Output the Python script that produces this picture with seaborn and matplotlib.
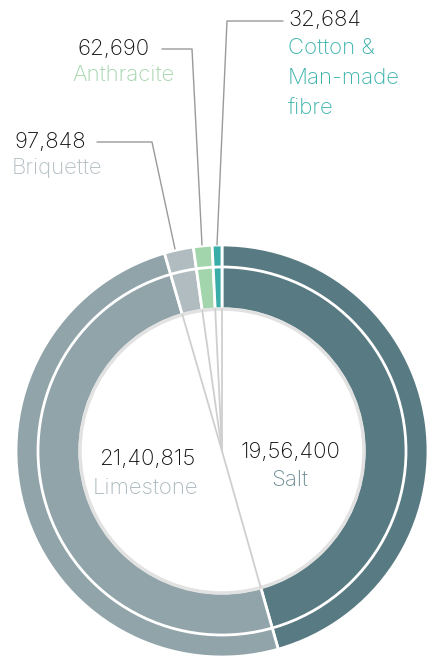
import numpy as np
import matplotlib
matplotlib.use("Agg")
import matplotlib.pyplot as plt
import seaborn as sns

# data
categories = ["Salt", "Limestone", "Briquette", "Anthracite", "Cotton &\nMan-made\nfibre"]
values = [1956400, 2140815, 97848, 62690, 32684]
value_labels = ["19,56,400", "21,40,815", "97,848", "62,690", "32,684"]
colors = ["#587a82", "#91a4aa", "#b1bcc0", "#a3d5ac", "#3aada8"]
label_colors = ["#6d8d95", "#a9b8bd", "#b3bec2", "#a3d5ac", "#3db3ac"]

sns.set_theme(style="white")
plt.rcParams["font.family"] = ["Inter", "DejaVu Sans"]

W, H = 436, 656
fig = plt.figure(figsize=(W / 100, H / 100), dpi=100)
ax = fig.add_axes([0, 0, 1, 1])
ax.set_aspect("equal")
ax.axis("off")

cx, cy = 222, H - 451
r_out, r_sep, r_in = 206, 184, 142

ax.pie(values, colors=colors, startangle=90, counterclock=False,
       center=(cx, cy), radius=r_out,
       wedgeprops=dict(width=r_out - r_in, edgecolor="white", linewidth=2))
ax.set_xlim(0, W)
ax.set_ylim(0, H)

# white separator ring and hole edge
ax.add_patch(plt.Circle((cx, cy), r_sep, fill=False, ec="white", lw=2, zorder=3))
ax.add_patch(plt.Circle((cx, cy), r_in, fill=False, ec="#e2e2e2", lw=2.5, zorder=3))

# gray spokes from centre to each slice boundary
bounds = np.cumsum([0] + values) / sum(values)
for b in bounds[:-1]:
    a = np.deg2rad(90 - 360 * b)
    ax.plot([cx, cx + r_in * np.cos(a)], [cy, cy + r_in * np.sin(a)],
            color="#cfcfcf", lw=1.3, zorder=4)

fs = 16
fw = "light"

def ytop(y):
    return H - y

# big labels inside
ax.text(290, ytop(452), value_labels[0], ha="center", va="center", fontsize=fs, color="#111111", fontweight=fw)
ax.text(290, ytop(480), categories[0], ha="center", va="center", fontsize=fs, color=label_colors[0], fontweight=fw)
ax.text(147, ytop(459), value_labels[1], ha="center", va="center", fontsize=fs, color="#111111", fontweight=fw)
ax.text(145, ytop(488), categories[1], ha="center", va="center", fontsize=fs, color=label_colors[1], fontweight=fw)

# small slices with leader lines
leaders = {
    2: dict(text=(14, 142), name=(12, 168), line=[(97, 142), (152, 142), (175, 249)]),
    3: dict(text=(77, 49), name=(72, 75), line=[(162, 49), (192, 49), (202, 245)]),
    4: dict(text=(288, 20), name=(288, 78), line=[(283, 21), (227, 21), (217, 245)]),
}
for i, d in leaders.items():
    xs = [p[0] for p in d["line"]]
    ys = [ytop(p[1]) for p in d["line"]]
    ax.plot(xs, ys, color="#9a9a9a", lw=1)
    tx, ty = d["text"]
    ax.text(tx, ytop(ty), value_labels[i], ha="left", va="center", fontsize=fs,
            color="#111111", fontweight=fw)
    nx, ny = d["name"]
    ax.text(nx, ytop(ny), categories[i], ha="left", va="center", fontsize=fs,
            color=label_colors[i], linespacing=1.62, fontweight=fw)

fig.savefig("out.png", dpi=100)
